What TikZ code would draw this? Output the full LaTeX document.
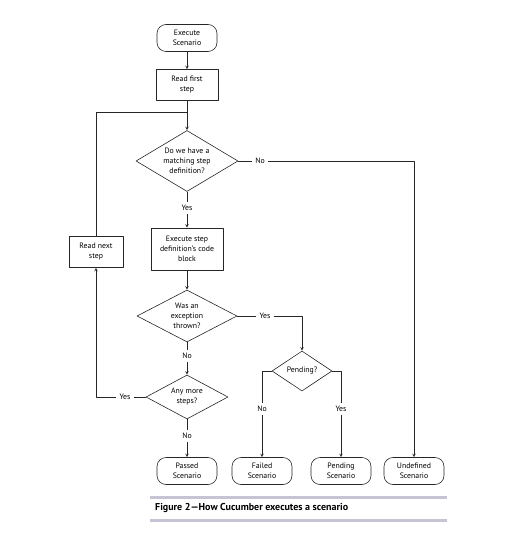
\documentclass[tikz,border=0pt]{standalone}
\usepackage{fontspec}
\setmainfont{PT Sans}
\usetikzlibrary{shapes.geometric}
\definecolor{rulegray}{HTML}{C4C4D4}
\begin{document}
\begin{tikzpicture}[x=1pt, y=-1pt, font=\fontsize{7.8}{10}\selectfont, line join=round, >=stealth,
  flow/.style={draw=black!85, line width=.6pt},
  term/.style={flow, rounded corners=9pt, minimum width=60pt, minimum height=27pt, inner sep=1pt, align=center},
  act/.style={flow, inner sep=1pt, align=center},
  ask/.style={flow, diamond, aspect=1.7, inner sep=0pt, align=center},
  lbl/.style={inner sep=3pt}]
\useasboundingbox (0,0) rectangle (525,545);
\node[term] (exec) at (187,38) {Execute\\Scenario};
\node[act, minimum width=62pt, minimum height=31pt] (read1) at (187,85) {Read first\\step};
\node[ask, minimum width=102pt, minimum height=61pt] (d1) at (187,161) {Do we have a\\matching step\\definition?};
\node[act, minimum width=72pt, minimum height=42pt] (run) at (187,249) {Execute step\\definition's code\\block};
\node[ask, minimum width=100pt, minimum height=52pt] (d2) at (187,316) {Was an\\exception\\thrown?};
\node[ask, minimum width=82pt, minimum height=44pt] (d3) at (187,397) {Any more\\steps?};
\node[ask, minimum width=60pt, minimum height=40pt] (d4) at (302,371) {Pending?};
\node[act, minimum width=54pt, minimum height=31pt] (read2) at (96,252) {Read next\\step};
\foreach \n/\x/\t in {passed/187/Passed, failed/262/Failed, pending/341/Pending, undef/414/Undefined}
  \node[term] (\n) at (\x,471) {\t\\Scenario};
% branch labels
\node[lbl] (yes1) at (187,208) {Yes};
\node[lbl] (no1) at (260,161) {No};
\node[lbl] (yes2) at (265,316) {Yes};
\node[lbl] (no2) at (187,356) {No};
\node[lbl] (yes3) at (125,397) {Yes};
\node[lbl] (no3) at (187,436) {No};
\node[lbl] (no4) at (262,409) {No};
\node[lbl] (yes4) at (341,409) {Yes};
\coordinate (join) at (187,112);
% connectors
\draw[flow, ->] (exec) -- (read1);
\draw[flow, ->] (read1) -- (d1);
\draw[flow] (read2.north) |- (join);
\draw[flow, ->] (d1.east) -- (no1) -| (undef.north);
\draw[flow, ->] (d1.south) -- (yes1) -- (run);
\draw[flow, ->] (run) -- (d2.north);
\draw[flow, ->] (d2.east) -- (yes2) -| (d4.north);
\draw[flow, ->] (d2.south) -- (no2) -- (d3.north);
\draw[flow, ->] (d3.west) -- (yes3) -| (read2.south);
\draw[flow, ->] (d3.south) -- (no3) -- (passed.north);
\draw[flow, ->] (d4.west) -| (no4) -- (failed.north);
\draw[flow, ->] (d4.east) -| (yes4) -- (pending.north);
% caption
\fill[rulegray] (150,495.5) rectangle (447,498.5);
\fill[rulegray] (150,519) rectangle (447,522);
\node[anchor=west, inner sep=0pt, font=\fontsize{10}{12}\selectfont\bfseries] (caption) at (155,508) {Figure 2---How Cucumber executes a scenario};
\end{tikzpicture}
\end{document}
